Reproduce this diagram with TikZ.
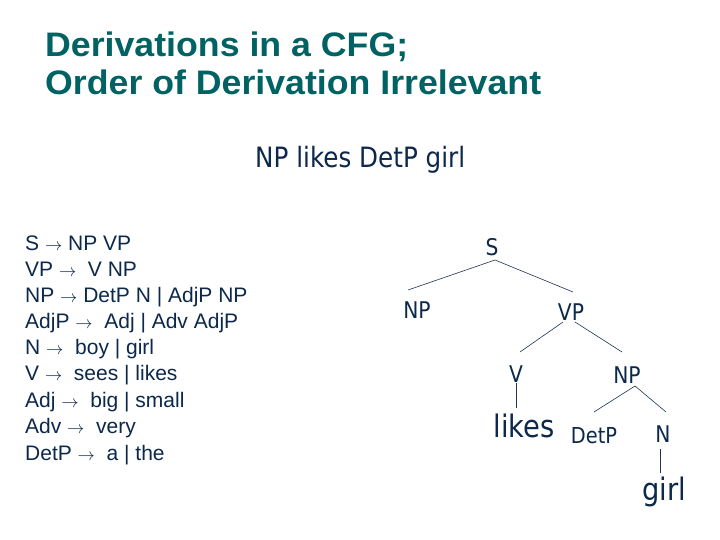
\documentclass[tikz,border=0pt]{standalone}
\usepackage{fontspec}
\setmainfont{Liberation Sans}
\newfontfamily\titlefont[FakeStretch=1.05]{Liberation Sans}
\newfontfamily\treefont[FakeStretch=0.88]{DejaVu Sans}
\definecolor{titlecol}{RGB}{0,98,98}
\definecolor{navy}{RGB}{12,40,75}
\newcommand\arr{{\fontsize{19}{19}\selectfont$\rightarrow$}}
\begin{document}
\begin{tikzpicture}[x=1pt,y=-1pt,
  titletext/.style={anchor=base west, inner sep=0pt, text=titlecol, font=\titlefont\fontsize{34}{34}\selectfont\bfseries},
  ruletext/.style={anchor=base west, inner sep=0pt, text=navy, font=\fontsize{21}{21}\selectfont},
  headtext/.style={anchor=base west, inner sep=0pt, text=navy, font=\treefont\fontsize{28}{28}\selectfont},
  tlab/.style={anchor=base, inner sep=0pt, text=navy, font=\treefont\fontsize{23}{23}\selectfont},
  dlab/.style={anchor=base, inner sep=0pt, text=navy, font=\treefont\fontsize{22}{22}\selectfont},
  word/.style={anchor=base, inner sep=0pt, text=navy, font=\treefont\fontsize{31}{31}\selectfont},
  branch/.style={draw=navy!85!gray, line width=0.6pt}]
\fill[white] (0,0) rectangle (720,540);
\useasboundingbox (0,0) rectangle (720,540);
% title
\node[titletext] (t1) at (45,57) {Derivations in a CFG;};
\node[titletext] (t2) at (45,95) {Order of Derivation Irrelevant};
% headline
\node[headtext] (head) at (255,168) {NP likes DetP girl};
% grammar
\node[ruletext] (r1) at (25,250) {S \arr{} NP VP};
\node[ruletext] (r2) at (25,276) {VP \arr{}\ \ V NP};
\node[ruletext] (r3) at (25,302) {NP \arr{} DetP N | AdjP NP};
\node[ruletext] (r4) at (25,328) {AdjP \arr{}\ \ Adj | Adv AdjP};
\node[ruletext] (r5) at (25,354) {N \arr{}\ \ boy | girl};
\node[ruletext] (r6) at (25,380) {V \arr{}\ \ sees | likes};
\node[ruletext] (r7) at (25,407) {Adj \arr{}\ \ big | small};
\node[ruletext] (r8) at (25,433) {Adv \arr{}\ \ very};
\node[ruletext] (r9) at (25,460) {DetP \arr{}\ \ a | the};
% tree
\node[tlab] (S) at (492,255) {S};
\node[tlab] (NP1) at (417,318) {NP};
\node[tlab] (VP) at (571,320) {VP};
\node[tlab] (V) at (516,382) {V};
\node[tlab] (NP2) at (627,383) {NP};
\node[word] (likes) at (524,437) {likes};
\node[dlab] (DetP) at (594,443) {DetP};
\node[tlab] (N) at (663,442) {N};
\node[word] (girl) at (664,500) {girl};
% branch ends
\coordinate (Sbot) at (495,260);
\coordinate (NP1top) at (408,290);
\coordinate (VPtop) at (573,292);
\coordinate (VPbotL) at (563,322);
\coordinate (VPbotR) at (575,322);
\coordinate (Vtop) at (520,352);
\coordinate (NP2top) at (622,352);
\coordinate (Vbot) at (516,383);
\coordinate (likestop) at (516,408);
\coordinate (NP2bot) at (635,386);
\coordinate (DetPtop) at (594,412);
\coordinate (Ntop) at (666,412);
\coordinate (Nbot) at (660,449);
\coordinate (girltop) at (660,473);
\draw[branch] (NP1top) -- (Sbot) -- (VPtop);
\draw[branch] (VPbotL) -- (Vtop);
\draw[branch] (VPbotR) -- (NP2top);
\draw[branch] (Vbot) -- (likestop);
\draw[branch] (DetPtop) -- (NP2bot) -- (Ntop);
\draw[branch] (Nbot) -- (girltop);
\end{tikzpicture}
\end{document}
